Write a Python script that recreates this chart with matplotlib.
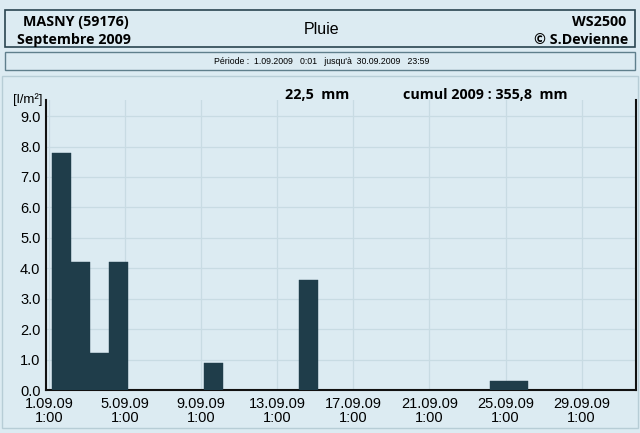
import numpy as np
import matplotlib
matplotlib.use("Agg")
import matplotlib.pyplot as plt
from matplotlib.patches import Rectangle

# daily rainfall, September 2009 (l/m²); day number -> amount
days = [1, 2, 3, 4, 9, 14, 24, 25]
rain = [7.8, 4.2, 1.2, 4.2, 0.9, 3.6, 0.3, 0.3]

tick_days = [1, 5, 9, 13, 17, 21, 25, 29]
tick_labels = [f"{d}.09.09\n1:00" for d in tick_days]
y_ticks = [0, 1, 2, 3, 4, 5, 6, 7, 8, 9]

BG = "#dcebf2"
BAR = "#1f3d4a"
GRID = "#c8dbe3"
EDGE = "#2a4550"

plt.rcParams.update({
    "font.family": ["Liberation Sans", "DejaVu Sans"],
    "font.size": 10.5,
})

fig = plt.figure(figsize=(6.4, 4.33), dpi=100)
fig.patch.set_facecolor(BG)

# header boxes
fig.patches.append(Rectangle((5 / 640, 1 - 47 / 433), 630 / 640, 37 / 433,
                             transform=fig.transFigure, fill=False,
                             edgecolor=EDGE, linewidth=1.2))
fig.patches.append(Rectangle((5 / 640, 1 - 70 / 433), 630 / 640, 18 / 433,
                             transform=fig.transFigure, fill=False,
                             edgecolor="#5f7f8c", linewidth=1.0))
# outer chart frame
fig.patches.append(Rectangle((2 / 640, 1 - 428 / 433), 636 / 640, 352 / 433,
                             transform=fig.transFigure, fill=False,
                             edgecolor="#b7cdd6", linewidth=1.0))

bold = dict(family=["Open Sans", "DejaVu Sans"], fontweight="bold", fontsize=10.3)
fig.text(23 / 640, 1 - 22 / 433, "MASNY (59176)", ha="left", va="center", **bold)
fig.text(17 / 640, 1 - 40 / 433, "Septembre 2009", ha="left", va="center", **bold)
fig.text(626 / 640, 1 - 22 / 433, "WS2500", ha="right", va="center", **bold)
fig.text(628 / 640, 1 - 40 / 433, "© S.Devienne", ha="right", va="center", **bold)
fig.text(322 / 640, 1 - 29 / 433, "Pluie", ha="center", va="center", fontsize=11.5)
fig.text(322 / 640, 1 - 61 / 433,
         "Période :  1.09.2009   0:01   jusqu'à  30.09.2009   23:59",
         ha="center", va="center", fontsize=6.3)

ax = fig.add_axes([46 / 640, 1 - 390 / 433, 590 / 640, 290 / 433])
ax.set_facecolor(BG)

# bars cover each day, starting a few hours after midnight
x0 = [d - 1 + 0.2 for d in days]
ax.bar(x0, rain, width=1.0, align="edge", color=BAR, edgecolor=BAR,
       linewidth=0.3, zorder=3)

ax.set_xlim(-0.12, 30.9)
ax.set_ylim(0, 9.53)
tick_pos = [d - 1 + 1 / 24 for d in tick_days]
ax.set_xticks(tick_pos)
ax.set_xticklabels(tick_labels, linespacing=1.05)
ax.set_yticks(y_ticks)
ax.set_yticklabels([f"{v:.1f}" for v in y_ticks])
ax.tick_params(length=0)
ax.tick_params(axis="x", pad=5)
ax.tick_params(axis="y", pad=4)

ax.grid(True, color=GRID, linewidth=0.9, zorder=0)
ax.spines["top"].set_visible(False)
for s in ("left", "right", "bottom"):
    ax.spines[s].set_color("#111111")
    ax.spines[s].set_linewidth(1.5)

fig.text(28 / 640, 1 - 100 / 433, "[l/m²]", ha="center", va="center", fontsize=9.5)
fig.text(285 / 640, 1 - 95 / 433, "22,5  mm", ha="left", va="center", **bold)
fig.text(403 / 640, 1 - 95 / 433, "cumul 2009 : 355,8  mm", ha="left", va="center", **bold)

fig.savefig("out.png", dpi=100, facecolor=BG)
